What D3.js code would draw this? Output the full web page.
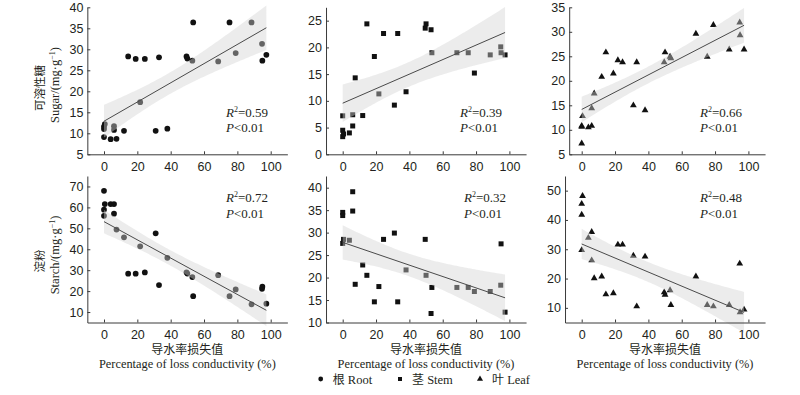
<!DOCTYPE html>
<html>
<head>
<meta charset="utf-8">
<script src="https://cdn.jsdelivr.net/npm/d3@7"></script>
<style>
body { margin: 0; background: #fff; }
svg { display: block; font-family: "Liberation Serif", "Noto Sans CJK SC", serif; }
.tick text { font-size: 12.5px; fill: #231f20; }
.tick line, .domain { stroke: #3a3a3a; }
</style>
</head>
<body>
<svg id="svg" width="800" height="395"></svg>
<script>
// conductivity loss (%) of each sample, shared by all six panels
var conductivity = [0, 0, 0, 0.5, 4, 6, 6, 7.5, 12, 14.5, 19, 21.7, 24.5, 31, 33, 38, 49.5, 50, 53, 53.5, 68.5, 75.3, 79, 88.5, 94.8, 95, 97.4];

var rootSugar  = [9.1, 11.0, 11.6, 12.2, 8.6, 11.7, 10.8, 8.7, 10.6, 28.3, 27.7, 17.4, 27.7, 10.6, 28.1, 11.1, 28.3, 27.8, 27.3, 36.4, 27.1, 36.4, 29.1, 36.4, 31.3, 27.3, 28.7];
var stemSugar  = [7.2, 4.5, 3.3, 3.8, 4.0, 7.4, 5.3, 14.3, 7.25, 24.4, 18.3, 11.3, 22.6, 9.2, 22.6, 11.7, 23.6, 24.4, 23.3, 19.0, 19.0, 19.0, 15.2, 18.6, 20.1, 19.0, 18.6];
var leafSugar  = [10.8, 10.6, 7.2, 12.8, 10.5, 14.4, 10.8, 17.4, 20.8, 25.8, 21.5, 24.2, 23.8, 15.0, 23.8, 14.0, 23.8, 25.8, 24.9, 24.6, 29.6, 24.9, 31.4, 26.4, 31.9, 29.3, 26.4];
var rootStarch = [67.9, 58.9, 56.0, 61.6, 61.6, 61.6, 57.0, 49.4, 45.7, 28.3, 28.3, 41.4, 28.9, 47.6, 22.9, 35.9, 29.0, 28.4, 26.7, 17.6, 27.6, 17.6, 20.8, 13.7, 21.1, 22.1, 14.0];
var stemStarch = [34.5, 33.8, 27.6, 28.5, 28.3, 39.1, 34.8, 18.5, 22.8, 20.5, 14.6, 18.0, 28.5, 29.9, 14.6, 21.7, 28.5, 20.5, 12.0, 17.8, 17.8, 17.8, 16.9, 16.9, 18.3, 27.5, 12.3];
var leafStarch = [45.5, 41.8, 29.7, 48.2, 33.9, 35.9, 26.2, 20.1, 20.7, 14.6, 15.0, 31.6, 31.6, 27.8, 10.5, 27.5, 15.3, 14.5, 16.0, 11.0, 20.7, 11.0, 10.5, 11.0, 25.1, 8.5, 9.4];

var r2Labels = ["0.59", "0.39", "0.66", "0.72", "0.32", "0.48"];
var xTicks = [0, 20, 40, 60, 80, 100];
var sugarTicks = [[5, 10, 15, 20, 25, 30, 35, 40], [0, 5, 10, 15, 20, 25], [5, 10, 15, 20, 25, 30, 35]];
var starchTicks = [[10, 20, 30, 40, 50, 60, 70], [10, 15, 20, 25, 30, 35, 40], [10, 20, 30, 40, 50]];
var sugarDomains = [[5, 40], [0, 27.5], [5, 35]];
var starchDomains = [[5, 75], [10, 42.6], [5, 55]];
var legendLabels = [["根", "Root"], ["茎", "Stem"], ["叶", "Leaf"]];

var svg = d3.select("#svg");
var shapes = [d3.symbolCircle, d3.symbolSquare, d3.symbolTriangle];
var shapeSize = [26, 25, 20];

var panels = [
    {ys: rootSugar,  organ: 0, row: 0, col: 0, yDom: sugarDomains[0],  ticks: sugarTicks[0],  lx: 226, xLo: -10},
    {ys: stemSugar,  organ: 1, row: 0, col: 1, yDom: sugarDomains[1],  ticks: sugarTicks[1],  lx: 460, xLo: -10},
    {ys: leafSugar,  organ: 2, row: 0, col: 2, yDom: sugarDomains[2],  ticks: sugarTicks[2],  lx: 700, xLo: -7.5},
    {ys: rootStarch, organ: 0, row: 1, col: 0, yDom: starchDomains[0], ticks: starchTicks[0], lx: 226, xLo: -10},
    {ys: stemStarch, organ: 1, row: 1, col: 1, yDom: starchDomains[1], ticks: starchTicks[1], lx: 464, xLo: -10},
    {ys: leafStarch, organ: 2, row: 1, col: 2, yDom: starchDomains[2], ticks: starchTicks[2], lx: 700, xLo: -10}
];

var zeroX = [104, 342.7, 581.7];   // pixel of x = 0 in each column
var pxPerUnit = 1.667;
var rowY = [[154.3, 7.3], [322.5, 176]];
var statY = [[116.5, 131.5], [201.5, 217.5]];

// least squares fit with 95% confidence band
function fit(xs, ys) {
    var n = xs.length;
    var mx = d3.mean(xs), my = d3.mean(ys);
    var sxx = 0, sxy = 0;
    xs.forEach((x, i) => { sxx += (x - mx) * (x - mx); sxy += (x - mx) * (ys[i] - my); });
    var b = sxy / sxx, a = my - b * mx;
    var sse = 0;
    xs.forEach((x, i) => { var r = ys[i] - (a + b * x); sse += r * r; });
    var s = Math.sqrt(sse / (n - 2));
    var t = 2.06;
    return {
        y: x => a + b * x,
        half: x => t * s * Math.sqrt(1 / n + (x - mx) * (x - mx) / sxx)
    };
}

panels.forEach((p, k) => {
    var x = d3.scaleLinear()
        .domain([p.xLo, 110])
        .range([zeroX[p.col] + p.xLo * pxPerUnit, zeroX[p.col] + 110 * pxPerUnit]);
    var y = d3.scaleLinear().domain(p.yDom).range(rowY[p.row]);
    var g = svg.append("g");

    g.selectAll("path.pt")
        .data(conductivity.map((c, i) => [c, p.ys[i]]))
        .enter()
        .append("path")
        .attr("class", "pt")
        .attr("transform", d => `translate(${x(d[0])},${y(d[1])})`)
        .attr("d", d3.symbol().type(shapes[p.organ]).size(shapeSize[p.organ]))
        .style("fill", "#111");

    var f = fit(conductivity, p.ys);
    var x0 = d3.min(conductivity), x1 = d3.max(conductivity);
    var xs = d3.range(x0, x1, (x1 - x0) / 80).concat([x1]);

    g.append("path")
        .datum(xs)
        .attr("d", d3.area()
            .x(d => x(d))
            .y0(d => y(f.y(d) - f.half(d)))
            .y1(d => y(f.y(d) + f.half(d))))
        .style("fill", "rgb(211,211,211)")
        .style("fill-opacity", 0.43);

    g.append("line")
        .attr("x1", x(x0)).attr("y1", y(f.y(x0)))
        .attr("x2", x(x1)).attr("y2", y(f.y(x1)))
        .style("stroke", "#4a4a4a")
        .style("stroke-width", 1);

    g.append("g")
        .attr("transform", `translate(0,${rowY[p.row][0]})`)
        .call(d3.axisBottom(x).tickValues(xTicks).tickSizeInner(-3).tickSizeOuter(0).tickPadding(7.5));

    g.append("g")
        .attr("transform", `translate(${x(p.xLo)},0)`)
        .call(d3.axisLeft(y).tickValues(p.ticks).tickSizeInner(-3).tickSizeOuter(0).tickPadding(4));

    var r2 = g.append("text")
        .attr("x", p.lx).attr("y", statY[p.row][0])
        .style("font-size", "13px").style("fill", "#231f20");
    r2.append("tspan").style("font-style", "italic").text("R");
    r2.append("tspan").attr("dy", -5).style("font-size", "8px").text("2");
    r2.append("tspan").attr("dy", 5).text("=" + r2Labels[k]);

    var pv = g.append("text")
        .attr("x", p.lx).attr("y", statY[p.row][1])
        .style("font-size", "13px").style("fill", "#231f20");
    pv.append("tspan").style("font-style", "italic").text("P");
    pv.append("tspan").text("<0.01");

    // x titles only under the bottom row
    if (p.row == 1) {
        g.append("text")
            .attr("x", x(50)).attr("y", 353.5)
            .attr("text-anchor", "middle")
            .style("font-size", "12px").style("fill", "#231f20")
            .text("导水率损失值");
        g.append("text")
            .attr("x", x(50)).attr("y", 368)
            .attr("text-anchor", "middle")
            .style("font-size", "12.4px").style("fill", "#231f20")
            .text("Percentage of loss conductivity (%)");
    }
});

// y titles
var yTitles = [
    {zh: "可溶性糖", en: "Sugar/(mg·g", cz: 88, ce: 85},
    {zh: "淀粉", en: "Starch/(mg·g", cz: 261, ce: 255}
];
yTitles.forEach(t => {
    svg.append("text")
        .attr("transform", `translate(40,${t.cz}) rotate(-90)`)
        .attr("text-anchor", "middle")
        .attr("dy", "0.38em")
        .style("font-size", "11.5px").style("fill", "#231f20")
        .text(t.zh);
    var e = svg.append("text")
        .attr("transform", `translate(55,${t.ce}) rotate(-90)`)
        .attr("text-anchor", "middle")
        .attr("dy", "0.35em")
        .style("font-size", "12.5px").style("fill", "#231f20");
    e.append("tspan").text(t.en);
    e.append("tspan").attr("dy", -4.5).style("font-size", "8px").text("−1");
    e.append("tspan").attr("dy", 4.5).text(")");
});

// legend
var legendX = [320.7, 400, 480];
var legendSize = [18, 16, 16];
legendLabels.forEach((l, i) => {
    svg.append("path")
        .attr("transform", `translate(${legendX[i]},379)`)
        .attr("d", d3.symbol().type(shapes[i]).size(legendSize[i]))
        .style("fill", "#111");
    var t = svg.append("text")
        .attr("x", legendX[i] + 12).attr("y", 383.5)
        .style("font-size", "12.5px").style("fill", "#231f20");
    t.append("tspan").style("font-size", "12px").text(l[0]);
    t.append("tspan").text(" " + l[1]);
});
</script>
</body>
</html>
